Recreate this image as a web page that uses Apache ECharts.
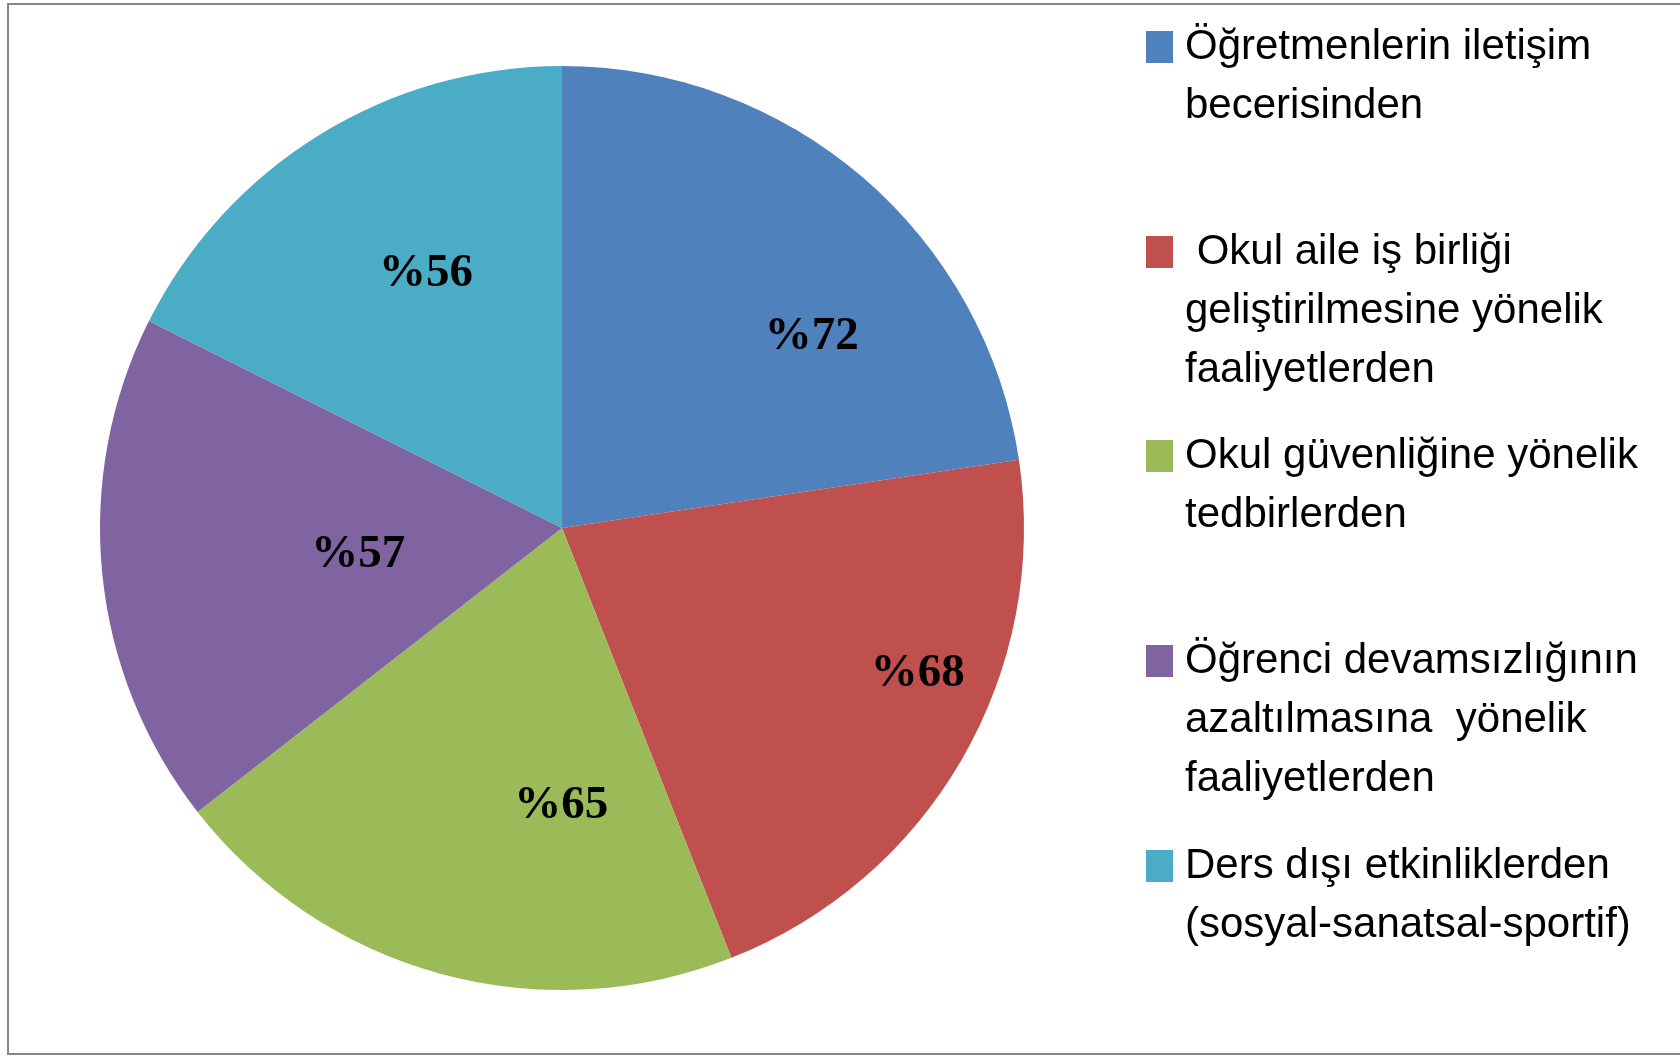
<!DOCTYPE html>
<html>
<head>
<meta charset="utf-8">
<script src="https://cdn.jsdelivr.net/npm/echarts@6/dist/echarts.min.js"></script>
<style>
  html, body { margin: 0; padding: 0; background: #fff; }
  #chart { position: absolute; left: 0; top: 0; width: 1680px; height: 1056px; }
  #frame {
    position: absolute; left: 7px; top: 3px; width: 1690px; height: 1048px;
    border-top: 2px solid #868686; border-left: 2px solid #868686; border-bottom: 2px solid #868686;
    pointer-events: none;
  }
</style>
</head>
<body>
<div id="chart"></div>
<div id="frame"></div>
<script>
// categories (legend text, with the line breaks shown in the picture)
const categories = [
  'Öğretmenlerin iletişim\nbecerisinden',
  ' Okul aile iş birliği\ngeliştirilmesine yönelik\nfaaliyetlerden',
  'Okul güvenliğine yönelik\ntedbirlerden',
  'Öğrenci devamsızlığının\nazaltılmasına  yönelik\nfaaliyetlerden',
  'Ders dışı etkinliklerden\n(sosyal-sanatsal-sportif)'
]
const values = [72, 68, 65, 57, 56]
const colors = ['#4F81BD', '#C0504D', '#9BBB59', '#8064A2', '#4BACC6']

// label nudges from the default "inside" spot, like the hand placed labels
const labelOffsets = [[97, -14], [153, 29], [61, 52], [29, 4], [-13, -55]]
const legendIconTops = [31, 236, 440, 645, 850]
const LINE_H = 59
const ICON_H = 32

const chart = echarts.init(document.getElementById('chart'), null, { renderer: 'canvas' })

const legends = categories.map((name, i) => {
  const lines = name.split('\n').length
  // legend text is centred on the icon; blank lines on top put line 1 level with it
  const above = (2 * lines - 1) * LINE_H / 2 - ICON_H / 2
  return {
    data: [name],
    left: 1146,
    top: legendIconTops[i] - above,
    padding: 0,
    // square marker plus a little empty room before the text
    icon: 'path://M0,0h27v32h-27zM34,32L34,32',
    itemWidth: 34,
    itemHeight: ICON_H,
    itemGap: 0,
    selectedMode: false,
    formatter: n => '\n'.repeat(lines - 1) + n,
    textStyle: {
      fontFamily: 'Liberation Sans',
      fontSize: 42,
      lineHeight: LINE_H,
      color: '#000'
    }
  }
})

chart.setOption({
  animation: false,
  backgroundColor: '#fff',
  legend: legends,
  series: [{
    type: 'pie',
    center: [562, 528],
    radius: [0, 462],
    startAngle: 90,
    clockwise: true,
    avoidLabelOverlap: false,
    labelLine: { show: false },
    data: categories.map((name, i) => ({
      name: name,
      value: values[i],
      itemStyle: { color: colors[i] },
      label: { offset: labelOffsets[i] }
    })),
    label: {
      show: true,
      position: 'inside',
      formatter: p => '%' + p.value,
      fontFamily: 'Liberation Serif',
      fontWeight: 'bold',
      fontSize: 47,
      color: '#000'
    },
    emphasis: { disabled: true }
  }]
})
</script>
</body>
</html>
